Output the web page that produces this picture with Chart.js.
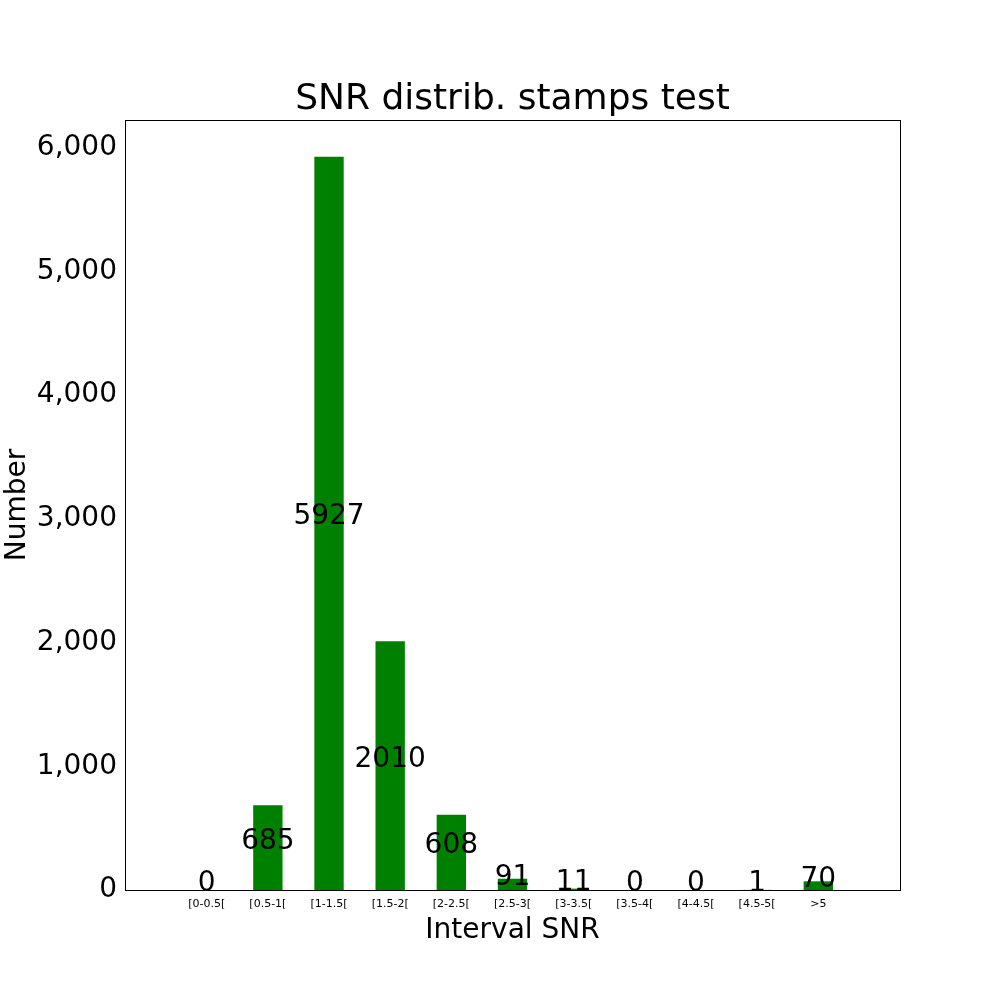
<!DOCTYPE html>
<html><head><meta charset="utf-8">
<script src="https://cdn.jsdelivr.net/npm/chart.js@4/dist/chart.umd.min.js"></script>
<style>body{margin:0;background:#fff}#c{display:block}</style>
</head><body>
<canvas id="c" width="1000" height="1000"></canvas>
<script>
// data
const categories = ['[0-0.5[', '[0.5-1[', '[1-1.5[', '[1.5-2[', '[2-2.5[', '[2.5-3[', '[3-3.5[', '[3.5-4[', '[4-4.5[', '[4.5-5[', '>5'];
const counts = [0, 685, 5927, 2010, 608, 91, 11, 0, 0, 1, 70];
const yTicks = [0, 1000, 2000, 3000, 4000, 5000, 6000];

const FONT = 'DejaVu Sans';

// value labels, box and titles
const extras = {
  id: 'extras',
  afterDatasetsDraw(chart) {
    const { ctx, chartArea: a, scales: { x, y } } = chart;
    ctx.save();
    ctx.fillStyle = '#000';
    ctx.font = '28px "' + FONT + '"';
    ctx.textAlign = 'center';
    ctx.textBaseline = 'alphabetic';
    counts.forEach((v, i) => {
      ctx.fillText(String(v), x.getPixelForValue(i), y.getPixelForValue(v / 2) + 1);
    });
    ctx.strokeStyle = '#000';
    ctx.lineWidth = 1;
    ctx.strokeRect(a.left + 0.5, a.top + 0.5, a.right - a.left, a.bottom - a.top);
    ctx.textBaseline = 'middle';
    ctx.font = '36px "' + FONT + '"';
    ctx.fillText('SNR distrib. stamps test', (a.left + a.right) / 2, 100);
    ctx.font = '28px "' + FONT + '"';
    ctx.fillText('Interval SNR', (a.left + a.right) / 2, 931);
    ctx.translate(18, (a.top + a.bottom) / 2);
    ctx.rotate(-Math.PI / 2);
    ctx.fillText('Number', 0, 0);
    ctx.restore();
  }
};

new Chart(document.getElementById('c'), {
  type: 'bar',
  data: {
    datasets: [{
      data: counts.map((v, i) => ({ x: i, y: v })),
      backgroundColor: '#008000',
      barPercentage: 0.48,
      categoryPercentage: 1
    }]
  },
  options: {
    responsive: false,
    animation: false,
    layout: { padding: { top: 120, right: 100, left: 0, bottom: 0 } },
    plugins: { legend: { display: false }, tooltip: { enabled: false } },
    scales: {
      x: {
        type: 'linear', min: -0.76, max: 10.76,
        grid: { display: false, drawTicks: true, tickLength: 5 },
        border: { display: false },
        afterBuildTicks(s) { s.ticks = categories.map((_, i) => ({ value: i })); },
        afterFit(s) { s.height = 110; },
        ticks: {
          color: '#000', font: { family: FONT, size: 11 }, maxRotation: 0, autoSkip: false,
          callback: (v) => categories[v]
        }
      },
      y: {
        min: 0, max: 6223,
        grid: { display: false, tickLength: 5 },
        border: { display: false },
        afterBuildTicks(s) { s.ticks = yTicks.map(v => ({ value: v })); },
        afterFit(s) { s.width = 125; },
        ticks: { color: '#000', font: { family: FONT, size: 28 } }
      }
    }
  },
  plugins: [extras]
});
</script>
</body></html>
